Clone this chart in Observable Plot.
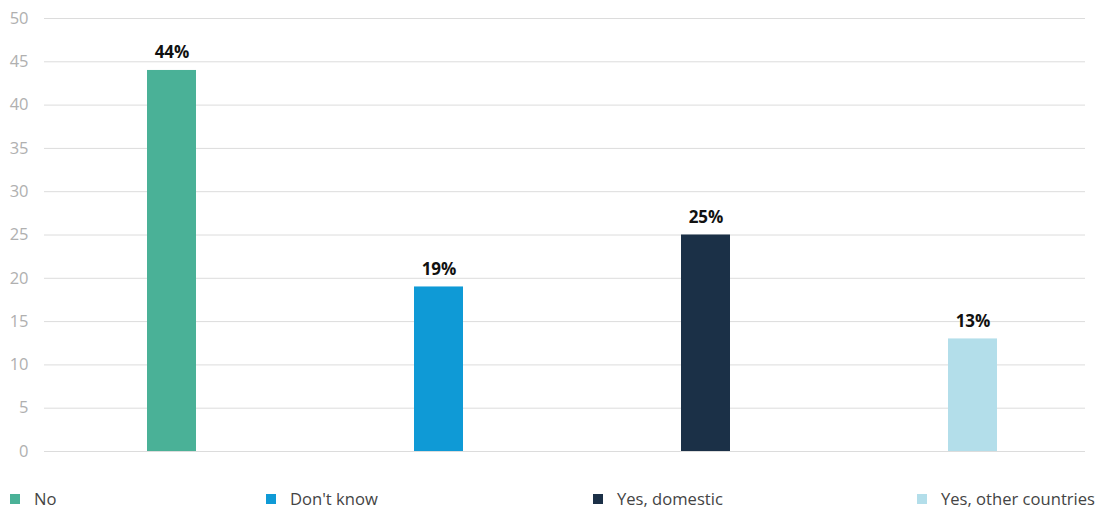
<!DOCTYPE html>
<html>
<head>
<meta charset="utf-8">
<script src="https://cdn.jsdelivr.net/npm/d3@7"></script>
<script src="https://cdn.jsdelivr.net/npm/@observablehq/plot@0.6"></script>
<style>
  html, body { margin: 0; padding: 0; background: #fff; }
  body { width: 1102px; height: 510px; overflow: hidden; font-family: "Open Sans", sans-serif; }
  #legend { position: relative; height: 24px; margin-top: 17px; font-size: 16.6px; color: #444; }
  .item { position: absolute; top: 0; display: flex; align-items: center; white-space: nowrap; }
  .sw { width: 10px; height: 10px; margin-right: 14px; }
</style>
</head>
<body>
<div id="chart"></div>
<div id="legend"></div>
<script>
const categories = ["No", "Don't know", "Yes, domestic", "Yes, other countries"];
const values = [44, 19, 25, 13];
const colors = ["#4ab197", "#0f9ad6", "#1b3047", "#b3deea"];
const yTicks = [0, 5, 10, 15, 20, 25, 30, 35, 40, 45, 50];
const legendLeft = [10, 266, 593, 917];

const data = categories.map((c, i) => ({category: c, value: values[i]}));

const chart = Plot.plot({
  width: 1102,
  height: 470,
  marginTop: 18,
  marginBottom: 19,
  marginLeft: 44,
  marginRight: 17,
  style: {fontFamily: "Open Sans, sans-serif", background: "#fff"},
  x: {domain: categories, range: [36, 1107], paddingInner: 0.817, paddingOuter: 0.4085, axis: null},
  y: {domain: [0, 50], ticks: yTicks, label: null},
  color: {domain: categories, range: colors},
  marks: [
    Plot.ruleY(yTicks, {stroke: "#dcdcdc", strokeWidth: 1}),
    Plot.axisY({ticks: yTicks, tickSize: 0, tickPadding: 16, fontSize: 16.5, color: "#b0b0b0", label: null}),
    Plot.barY(data, {x: "category", y: "value", fill: "category"}),
    Plot.text(data, {x: "category", y: "value", text: d => d.value + "%", dy: -12, lineAnchor: "bottom", fontSize: 17, fontWeight: "bold", fill: "#111"})
  ]
});
document.getElementById("chart").appendChild(chart);

const legend = document.getElementById("legend");
categories.forEach((c, i) => {
  const item = document.createElement("div");
  item.className = "item";
  item.style.left = legendLeft[i] + "px";
  const sw = document.createElement("span");
  sw.className = "sw";
  sw.style.background = colors[i];
  const t = document.createElement("span");
  t.textContent = c;
  item.appendChild(sw);
  item.appendChild(t);
  legend.appendChild(item);
});
</script>
</body>
</html>
